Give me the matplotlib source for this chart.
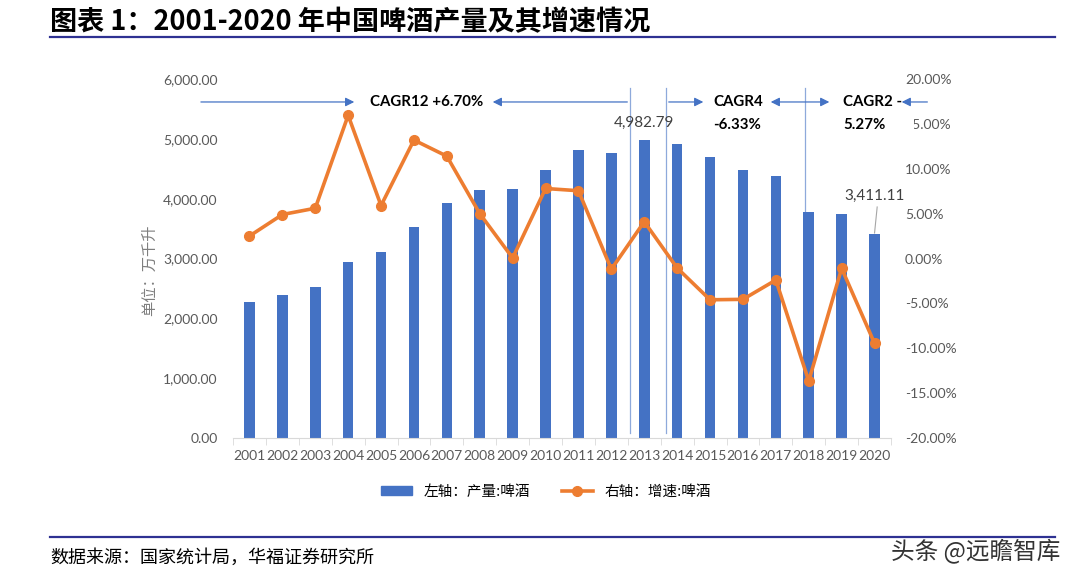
import matplotlib
matplotlib.use("Agg")
import matplotlib.pyplot as plt
from matplotlib.patches import Patch, Rectangle
from matplotlib.lines import Line2D
from matplotlib.ticker import FuncFormatter

plt.rcParams["font.family"] = ["Lato", "Noto Sans CJK SC", "DejaVu Sans"]

# ---------------------------------------
# Data
# ---------------------------------------
years = [str(y) for y in range(2001, 2021)]
output = [2270, 2395, 2519, 2937, 3104, 3522, 3928, 4140, 4163, 4474,
          4808, 4758, 4982.79, 4919, 4691, 4485, 4373, 3772, 3744, 3411.11]
growth = [2.5, 4.9, 5.6, 15.95, 5.9, 13.2, 11.4, 5.0, 0.05, 7.8,
          7.55, -1.2, 4.1, -1.06, -4.6, -4.55, -2.4, -13.65, -1.1, -9.45]

bar_color = "#4472C4"
line_color = "#ED7D31"
arrow_color = "#4472C4"
vline_color = "#8EA9DB"
tick_gray = "#595959"
navy = "#2E3192"

CJK = ["Noto Sans CJK SC", "DejaVu Sans"]

# ---------------------------------------
# Figure / axes
# ---------------------------------------
fig = plt.figure(figsize=(10.68, 5.84), dpi=100)
ax = fig.add_axes([233 / 1068, 1 - 438 / 584, 658 / 1068, 359 / 584])
ax2 = ax.twinx()

x = list(range(len(years)))
ax.bar(x, output, width=0.32, color=bar_color, zorder=2)
ax2.plot(x, growth, color=line_color, lw=2.6, marker="o", markersize=7, zorder=3)

ax.set_xlim(-0.5, len(years) - 0.5)
ax.set_ylim(0, 6000)
ax.set_yticks(range(0, 6001, 1000))
ax.yaxis.set_major_formatter(FuncFormatter(lambda v, p: f"{v:,.2f}"))
ax2.set_ylim(-20, 20)
ax2.set_yticks(range(-20, 21, 5))
ax2.yaxis.set_major_formatter(FuncFormatter(lambda v, p: f"{v:.2f}%"))

ax.set_xticks(x)
ax.set_xticklabels(years)
ax.set_xticks([i - 0.5 for i in range(len(years) + 1)], minor=True)

for a in (ax, ax2):
    for s in ("top", "left", "right"):
        a.spines[s].set_visible(False)
    a.spines["bottom"].set_color("#d9d9d9")
ax2.spines["bottom"].set_visible(False)

ax.tick_params(axis="x", which="major", length=0, pad=9, labelsize=10, colors=tick_gray)
ax.tick_params(axis="x", which="minor", length=5, color="#d9d9d9")
ax.tick_params(axis="y", length=0, pad=11, labelsize=10, colors=tick_gray)
ax2.tick_params(axis="y", length=0, pad=10, labelsize=10, colors=tick_gray)

fig.text(150 / 1068, 1 - 270 / 584, "单位：万千升", rotation=90, ha="center", va="center",
         fontsize=11, color="#7f7f7f", family=CJK)

# ---------------------------------------
# Data labels
# ---------------------------------------
ax.text(12, 5265, f"{output[12]:,.2f}", ha="center", va="center", fontsize=11, color="#404040")
ax.text(19, 4045, f"{output[19]:,.2f}", ha="center", va="center", fontsize=11, color="#404040")
ax.plot([19.08, 19.0], [3861, output[19] + 15], color="#a6a6a6", lw=0.8, zorder=3)

# ---------------------------------------
# CAGR annotations
# ---------------------------------------
for xv in (11.57, 12.66, 16.89):
    ax.plot([xv, xv], [84, 5850], color=vline_color, lw=0.9, zorder=1)

ya = 5616
arrow_kw = dict(arrowstyle="-|>", color=arrow_color, lw=0.9, mutation_scale=13)
for x0, x1 in ((-1.56, 3.27), (11.57, 7.31), (12.66, 13.88), (20.69, 19.74)):
    ax.annotate("", xy=(x1, ya), xytext=(x0, ya), arrowprops=arrow_kw, annotation_clip=False)
ax.annotate("", xy=(17.71, ya), xytext=(15.76, ya), annotation_clip=False,
            arrowprops=dict(arrowstyle="<|-|>", color=arrow_color, lw=0.9, mutation_scale=13))

bold_kw = dict(fontsize=10.8, fontweight="bold", color="black", va="center", zorder=6)
ax.text(5.4, ya, "CAGR12 +6.70%", ha="center", **bold_kw)
ax.text(14.85, ya, "CAGR4", ha="center", **bold_kw)
ax.text(14.83, 5231, "-6.33%", ha="center", **bold_kw)
ax.text(18.04, ya, "CAGR2 -", ha="left", **bold_kw)
ax.text(18.04, 5231, "5.27%", ha="left", **bold_kw)

# white text box in the original hides the "1" of the 15.00% tick
ax2.add_patch(Rectangle((19.8, 13.4), 0.4, 3.0, facecolor="white", edgecolor="none",
                        clip_on=False, zorder=5))

# ---------------------------------------
# Legend
# ---------------------------------------
handles = [Patch(color=bar_color, label="左轴：产量:啤酒"),
           Line2D([], [], color=line_color, lw=2.6, marker="o", markersize=7,
                  label="右轴：增速:啤酒")]
fig.legend(handles=handles, loc="center", bbox_to_anchor=(546 / 1068, 1 - 492 / 584),
           ncol=2, frameon=False, handlelength=2.1, handleheight=0.55, columnspacing=2.2,
           numpoints=1, prop={"family": CJK, "size": 10.5})

# ---------------------------------------
# Title, rules, source
# ---------------------------------------
fig.text(50 / 1068, 1 - 22 / 584, "图表 1：2001-2020 年中国啤酒产量及其增速情况",
         fontsize=19.5, fontweight="bold", va="center", ha="left", family=CJK)
fig.add_artist(Line2D([50 / 1068, 1055 / 1068], [1 - 37 / 584] * 2, color=navy, lw=1.6))
fig.add_artist(Line2D([50 / 1068, 1055 / 1068], [1 - 537 / 584] * 2, color=navy, lw=1.6))
fig.text(50 / 1068, 1 - 558 / 584, "数据来源：国家统计局，华福证券研究所",
         fontsize=13, va="center", ha="left", family=CJK)
fig.text(1060 / 1068, 1 - 551 / 584, "头条 @远瞻智库", fontsize=17, va="center",
         ha="right", color="#333333", family=CJK)

fig.savefig("out.png", dpi=100)
